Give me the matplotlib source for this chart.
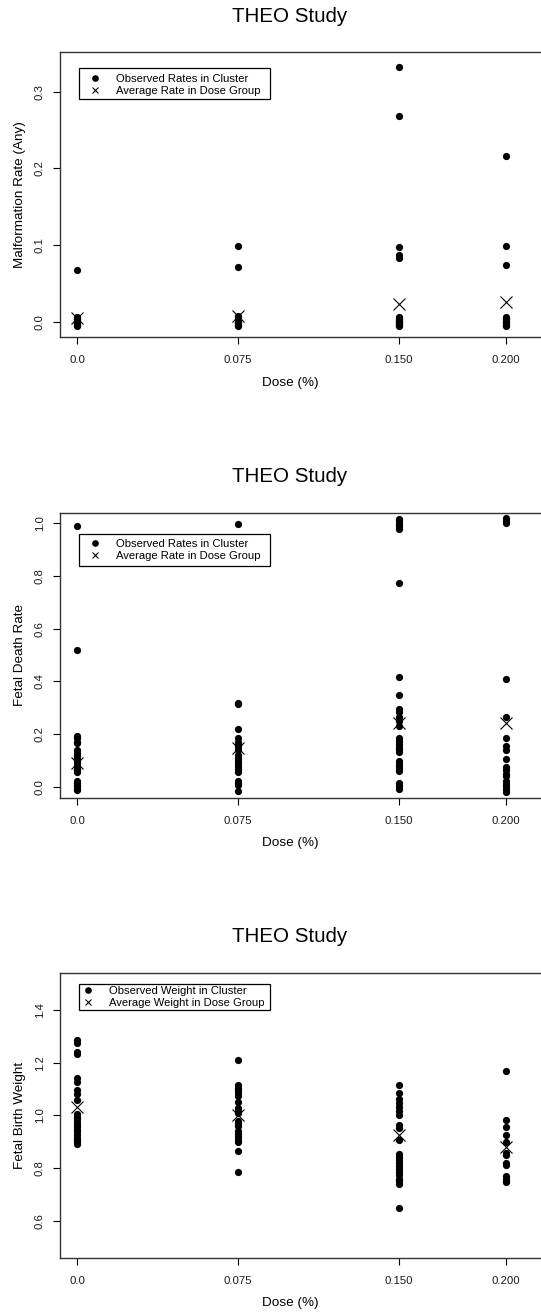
import matplotlib
matplotlib.use("Agg")
import matplotlib.pyplot as plt
from matplotlib.patches import Rectangle
from matplotlib.lines import Line2D

plt.rcParams['font.family'] = ['Liberation Sans', 'DejaVu Sans']

W, H = 541, 1314
DPI = 100

# ---------------- data ----------------
doses = [0.0, 0.075, 0.150, 0.200]
dose_labels = ["0.0", "0.075", "0.150", "0.200"]

# Panel 1: malformation rate per cluster (near-zero values are jittered in the picture)
malf_d0 = [0.0678, 0.006, 0.005, 0.004, 0.003, 0.002, 0.001, 0.0, -0.001, -0.002,
           -0.003, -0.004, -0.005, -0.006]
malf_d1 = [0.0987, 0.0717, 0.008, 0.006, 0.005, 0.004, 0.002, 0.001, 0.0, -0.001,
           -0.002, -0.004, -0.005, -0.006]
malf_d2 = [0.3318, 0.2679, 0.097, 0.087, 0.0835, 0.006, 0.005, 0.004, 0.002, 0.001,
           0.0, -0.001, -0.002, -0.003, -0.004, -0.005, -0.006]
malf_d3 = [0.2165, 0.0983, 0.0735, 0.006, 0.005, 0.004, 0.002, 0.0, -0.001, -0.002,
           -0.004, -0.005, -0.006]
malf_avg = [0.005, 0.008, 0.0235, 0.0252]

# Panel 2: fetal death rate per cluster
death_d0 = [0.990, 0.519, 0.195, 0.185, 0.172, 0.165, 0.14, 0.13, 0.12, 0.11, 0.10,
            0.09, 0.08, 0.07, 0.065, 0.058, 0.022, 0.015, 0.008, 0.0, -0.006, -0.012]
death_d1 = [0.998, 0.320, 0.314, 0.219, 0.186, 0.172, 0.16, 0.15, 0.14, 0.12, 0.11,
            0.10, 0.09, 0.08, 0.07, 0.058, 0.022, 0.015, 0.006, -0.017]
death_d2 = [1.018, 1.008, 0.998, 0.988, 0.978, 0.774, 0.416, 0.349, 0.296, 0.283,
            0.265, 0.25, 0.232, 0.186, 0.175, 0.163, 0.152, 0.143, 0.134, 0.098,
            0.088, 0.078, 0.07, 0.062, 0.014, 0.004, -0.006]
death_d3 = [1.020, 1.010, 1.000, 0.411, 0.267, 0.185, 0.155, 0.14, 0.105, 0.075,
            0.063, 0.05, 0.04, 0.022, 0.012, 0.002, -0.008, -0.018]
death_avg = [0.092, 0.148, 0.2415, 0.2415]

# Panel 3: fetal birth weight per cluster
wt_d0 = [1.286, 1.273, 1.242, 1.232, 1.141, 1.128, 1.096, 1.080, 1.058, 1.005,
         0.995, 0.985, 0.975, 0.965, 0.955, 0.945, 0.935, 0.925, 0.915, 0.905,
         0.897, 0.890]
wt_d1 = [1.210, 1.115, 1.105, 1.095, 1.085, 1.075, 1.052, 1.028, 1.018, 1.008,
         0.980, 0.968, 0.958, 0.940, 0.928, 0.918, 0.908, 0.898, 0.866, 0.786]
wt_d2 = [1.115, 1.085, 1.063, 1.048, 1.033, 1.018, 1.002, 0.962, 0.950, 0.906,
         0.855, 0.842, 0.830, 0.818, 0.806, 0.795, 0.783, 0.772, 0.760, 0.750,
         0.740, 0.649]
wt_d3 = [1.170, 0.982, 0.957, 0.925, 0.900, 0.856, 0.848, 0.818, 0.812, 0.770,
         0.760, 0.750, 0.745]
wt_avg = [1.033, 1.001, 0.925, 0.881]

panels = [
    dict(groups=[malf_d0, malf_d1, malf_d2, malf_d3], avg=malf_avg,
         ylabel="Malformation Rate (Any)", yticks=[0.0, 0.1, 0.2, 0.3],
         yticklabels=["0.0", "0.1", "0.2", "0.3"],
         legend=["Observed Rates in Cluster", "Average Rate in Dose Group"]),
    dict(groups=[death_d0, death_d1, death_d2, death_d3], avg=death_avg,
         ylabel="Fetal Death Rate", yticks=[0.0, 0.2, 0.4, 0.6, 0.8, 1.0],
         yticklabels=["0.0", "0.2", "0.4", "0.6", "0.8", "1.0"],
         legend=["Observed Rates in Cluster", "Average Rate in Dose Group"]),
    dict(groups=[wt_d0, wt_d1, wt_d2, wt_d3], avg=wt_avg,
         ylabel="Fetal Birth Weight", yticks=[0.6, 0.8, 1.0, 1.2, 1.4],
         yticklabels=["0.6", "0.8", "1.0", "1.2", "1.4"],
         legend=["Observed Weight in Cluster", "Average Weight in Dose Group"]),
]

# ---------------- layout (pixels) ----------------
ax_left_px, ax_right_px = 60, 546
x0_px, px_per_unit_x = 77.0, 2145.0
boxes = [
    dict(top=52.3, bottom=337.3, ylim=(-0.0204, 0.3514), title_y=17,
         leg=(79, 68.3, 270, 99.0), mk_x=95, tx_x=115.7, rows=(78.7, 90.8)),
    dict(top=512.7, bottom=797.7, ylim=(-0.0406, 1.040), title_y=476.7,
         leg=(79, 534.0, 270, 565.7), mk_x=95, tx_x=115.7, rows=(543.8, 556.0)),
    dict(top=973.3, bottom=1257.7, ylim=(0.4595, 1.539), title_y=936.7,
         leg=(79, 983.7, 270, 1010.0), mk_x=88.3, tx_x=109, rows=(990.5, 1002.8)),
]

xlim = ((ax_left_px - x0_px) / px_per_unit_x, (ax_right_px - x0_px) / px_per_unit_x)

def fx(px):
    return px / W

def fy(py):
    return 1 - py / H

fig = plt.figure(figsize=(W / DPI, H / DPI), dpi=DPI)
fig.patch.set_facecolor("white")

for p, b in zip(panels, boxes):
    ax = fig.add_axes([fx(ax_left_px), fy(b["bottom"]),
                       (ax_right_px - ax_left_px) / W, (b["bottom"] - b["top"]) / H])
    for d, g in zip(doses, p["groups"]):
        ax.plot([d] * len(g), g, linestyle="none", marker="o", markersize=5.2,
                color="black", markeredgewidth=0, clip_on=False)
    ax.plot(doses, p["avg"], linestyle="none", marker="x", markersize=8,
            color="black", markeredgewidth=0.8, clip_on=False)
    ax.set_xlim(*xlim)
    ax.set_ylim(*b["ylim"])
    ax.set_xticks(doses)
    ax.set_xticklabels(dose_labels)
    ax.set_yticks(p["yticks"])
    ax.set_yticklabels(p["yticklabels"], rotation=90, va="center")
    ax.tick_params(axis="both", direction="out", length=5, width=0.8,
                   labelsize=8.2, color="black", labelcolor="#1a1a1a")
    ax.tick_params(axis="x", pad=8)
    ax.tick_params(axis="y", pad=6)
    for s in ax.spines.values():
        s.set_linewidth(1.0)
        s.set_color("#333333")
    ax.spines["right"].set_visible(False)

    ax_h = b["bottom"] - b["top"]
    ax_w = ax_right_px - ax_left_px
    ax.set_xlabel("Dose (%)", fontsize=9.7)
    ax.xaxis.set_label_coords((290 - ax_left_px) / ax_w, -(45.7) / ax_h)
    ax.xaxis.label.set_va("center")
    ax.set_ylabel(p["ylabel"], fontsize=9.7)
    ax.yaxis.set_label_coords(-(60 - 20) / ax_w, 0.5)
    ax.yaxis.label.set_va("center")

    fig.text(fx(290), fy(b["title_y"]), "THEO Study", fontsize=14.8,
             ha="center", va="center")

    # legend box
    lx0, ly0, lx1, ly1 = b["leg"]
    fig.add_artist(Rectangle((fx(lx0), fy(ly1)), fx(lx1) - fx(lx0), fy(ly0) - fy(ly1),
                             transform=fig.transFigure, fill=False,
                             edgecolor="black", linewidth=0.9))
    r1, r2 = b["rows"]
    fig.add_artist(Line2D([fx(b["mk_x"])], [fy(r1 - 1)], transform=fig.transFigure,
                          linestyle="none", marker="o", markersize=4.8,
                          color="black", markeredgewidth=0))
    fig.add_artist(Line2D([fx(b["mk_x"])], [fy(r2 - 1)], transform=fig.transFigure,
                          linestyle="none", marker="x", markersize=3.8,
                          color="black", markeredgewidth=0.8))
    fig.text(fx(b["tx_x"]), fy(r1), p["legend"][0], fontsize=8.1,
             ha="left", va="center")
    fig.text(fx(b["tx_x"]), fy(r2), p["legend"][1], fontsize=8.1,
             ha="left", va="center")

fig.savefig("out.png", dpi=DPI, facecolor="white")
